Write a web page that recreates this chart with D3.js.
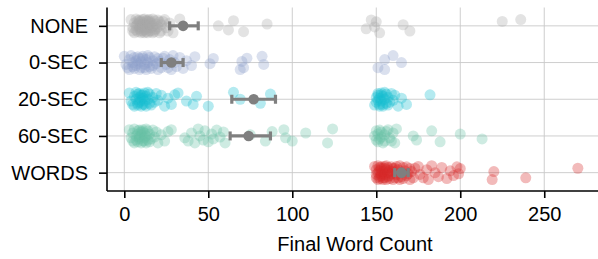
<!DOCTYPE html>
<html>
<head>
<meta charset="utf-8">
<script src="https://cdn.jsdelivr.net/npm/d3@7"></script>
<style>
  body { margin: 0; background: #fff; }
  svg { display: block; font-family: "Liberation Sans", Arial, sans-serif; }
</style>
</head>
<body>
<div id="vis"></div>
<script>

// conditions, top to bottom
var groups = ['NONE', '0-SEC', '20-SEC', '60-SEC', 'WORDS'];

// final word counts per condition
var noneVals = [4,5,5,6,6,7,7,7,8,8,8,9,9,9,9,10,10,10,10,11,11,11,11,12,12,12,12,13,13,13,13,14,14,14,14,15,15,15,15,16,16,16,17,17,17,18,18,18,19,19,20,20,21,21,22,22,23,24,25,26,27,29,33,56,62,65,71,85,144,147,149,150,152,166,170,225,236];
var zeroSecVals = [0,1,2,3,3,4,5,5,6,6,7,7,8,8,9,9,10,10,11,11,12,12,13,13,14,14,15,15,16,17,17,18,19,20,20,21,22,23,24,25,26,27,28,29,30,31,33,35,37,40,42,51,53,69,70,71,73,82,83,151,155,155,160,165];
var twentySecVals = [3,4,5,6,6,7,7,8,8,8,9,9,9,10,10,10,11,11,11,12,12,12,13,13,14,14,15,15,16,17,18,19,20,22,24,26,28,30,32,37,41,43,50,65,69,81,87,
  149,150,150,151,151,151,152,152,152,153,153,153,154,154,154,155,155,156,156,157,157,158,159,160,161,163,165,168,182];
var sixtySecVals = [3,4,5,5,6,6,7,7,8,8,8,9,9,9,10,10,10,11,11,11,12,12,12,13,13,13,14,14,15,15,16,17,18,19,20,22,24,26,28,
  36,38,40,42,44,45,47,48,50,52,53,55,57,59,60,75,84,88,95,96,100,108,121,124,
  149,150,150,151,151,152,152,153,153,154,155,155,156,157,158,159,160,161,162,172,174,183,188,200,213];
var wordsVals = [149,150,150,150,151,151,151,152,152,152,152,153,153,153,153,154,154,154,155,155,155,155,156,156,156,157,157,157,158,158,158,159,159,160,160,160,161,161,162,162,163,163,164,164,165,165,166,166,167,168,168,169,170,170,171,172,173,175,176,178,180,181,183,185,187,189,192,194,196,198,199,200,219,220,239,270];

// mean and error bar per condition
var means = [35, 28, 77, 74, 165];
var ciLow = [27, 22, 64, 63, 161];
var ciHigh = [44, 35, 90, 87, 169];

var xTicks = [0, 50, 100, 150, 200, 250];

var colors = ['#a9a9a9', '#8da0cb', '#17becf', '#66c2a5', '#d62728'];

// vertical spread of the strip, as fraction of the row step
var jitter = [-0.17, 0.05, 0.14, -0.08, 0.19, -0.19, 0, 0.11, -0.14, 0.16, -0.05, 0.08, -0.16, 0.03, -0.11, 0.19, -0.03, 0.14, -0.12];

var allVals = [noneVals, zeroSecVals, twentySecVals, sixtySecVals, wordsVals];

var width = 598, height = 259;
var plotLeft = 107, plotRight = 598, plotTop = 7.5, plotBottom = 191;
var fontSize = '20px';

var svg = d3.select('#vis').append('svg')
    .attr('width', width)
    .attr('height', height);

var x = d3.scaleLinear().domain([-10.3, 282]).range([plotLeft, plotRight]);
var y = d3.scalePoint().domain(groups).range([plotTop, plotBottom]).padding(0.5);
var step = y.step();

// grid
var grid = svg.append('g').attr('stroke', '#c8c8c8').attr('stroke-width', 0.9);
grid.selectAll('.vg').data(xTicks).enter().append('line')
    .attr('x1', function (d) { return x(d); })
    .attr('x2', function (d) { return x(d); })
    .attr('y1', plotTop).attr('y2', plotBottom);
grid.selectAll('.hg').data(groups).enter().append('line')
    .attr('x1', plotLeft).attr('x2', plotRight)
    .attr('y1', function (d) { return y(d); })
    .attr('y2', function (d) { return y(d); });

// points
var nodes = [];
allVals.forEach(function (vals, gi) {
    vals.forEach(function (v, i) {
        nodes.push({ g: gi, v: v, j: jitter[i % jitter.length] });
    });
});

svg.append('g').selectAll('circle')
    .data(nodes).enter().append('circle')
    .attr('cx', function (d) { return x(d.v); })
    .attr('cy', function (d) { return y(groups[d.g]) + d.j * step; })
    .attr('r', 5.5)
    .attr('fill', function (d) { return colors[d.g]; })
    .attr('fill-opacity', 0.32);

// means with error bars
var est = svg.append('g').attr('stroke', '#7f7f7f').attr('fill', '#7f7f7f');
groups.forEach(function (g, i) {
    var cy = y(g);
    est.append('line')
        .attr('x1', x(ciLow[i])).attr('x2', x(ciHigh[i]))
        .attr('y1', cy).attr('y2', cy)
        .attr('stroke-width', 3.2);
    [ciLow[i], ciHigh[i]].forEach(function (c) {
        est.append('line')
            .attr('x1', x(c)).attr('x2', x(c))
            .attr('y1', cy - 4.5).attr('y2', cy + 4.5)
            .attr('stroke-width', 3.2);
    });
    est.append('circle')
        .attr('cx', x(means[i])).attr('cy', cy)
        .attr('r', 5.3).attr('stroke', 'none');
});

// axes
var xAxis = svg.append('g')
    .attr('transform', 'translate(0,' + plotBottom + ')')
    .call(d3.axisBottom(x).tickValues(xTicks).tickSize(7).tickPadding(9));
var yAxis = svg.append('g')
    .attr('transform', 'translate(' + plotLeft + ',0)')
    .call(d3.axisLeft(y).tickSize(8).tickPadding(11));

[xAxis, yAxis].forEach(function (a) {
    a.select('.domain').attr('stroke', '#000').attr('stroke-width', 1.6);
    a.selectAll('.tick line').attr('stroke', '#000').attr('stroke-width', 1.6);
    a.selectAll('.tick text')
        .attr('fill', '#000')
        .style('font-size', fontSize)
        .style('font-family', '"Liberation Sans", Arial, sans-serif');
});
// spine ends exactly at the plot edges
xAxis.select('.domain').attr('d', 'M' + plotLeft + ',0H' + plotRight);
yAxis.select('.domain').attr('d', 'M0,' + plotTop + 'V' + plotBottom);

svg.append('text')
    .attr('x', 355)
    .attr('y', 251)
    .attr('text-anchor', 'middle')
    .style('font-size', fontSize)
    .attr('fill', '#000')
    .text('Final Word Count');

</script>
</body>
</html>
